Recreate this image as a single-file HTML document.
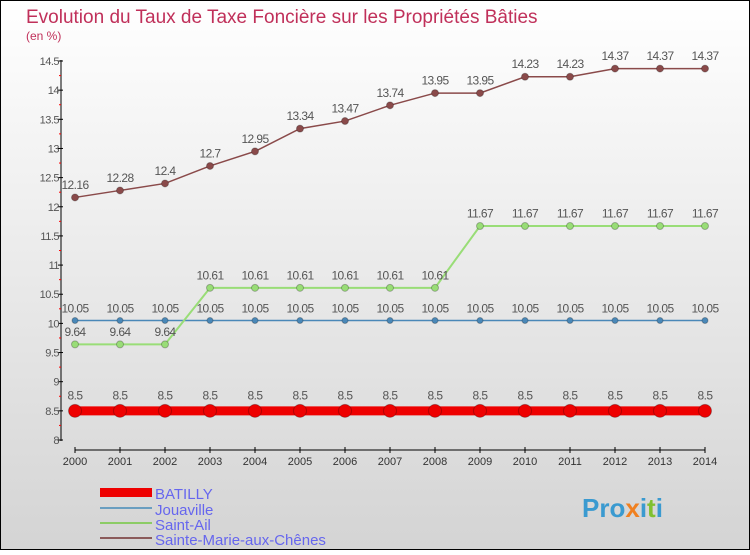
<!DOCTYPE html>
<html><head><meta charset="utf-8"><style>
body{margin:0}
svg text{font-family:"Liberation Sans",sans-serif}
</style></head><body>
<svg id="c" width="750" height="550" xmlns="http://www.w3.org/2000/svg">
<defs><linearGradient id="bg" x1="0" y1="0" x2="0" y2="1"><stop offset="0" stop-color="#ffffff"/><stop offset="1" stop-color="#d4d4d4"/></linearGradient></defs>
<rect x="0.5" y="0.5" width="749" height="549" fill="url(#bg)" stroke="#000"/>
<text x="26" y="23" font-size="19" fill="#c0305a">Evolution du Taux de Taxe Foncière sur les Propriétés Bâties</text>
<text x="26" y="40" font-size="12" fill="#c0305a">(en %)</text>
<g id="axes"></g><g id="series"></g>
<g>
<rect x="100" y="488" width="52" height="9" fill="#e00"/>
<text x="155" y="499" font-size="15" fill="#6666ee">BATILLY</text>
<rect x="100" y="507" width="52" height="2" fill="#6a9ec0"/>
<text x="155" y="515" font-size="15" fill="#6666ee">Jouaville</text>
<rect x="100" y="522" width="52" height="2" fill="#8ccc66"/>
<text x="155" y="530" font-size="15" fill="#6666ee">Saint-Ail</text>
<rect x="100" y="537" width="52" height="2" fill="#8a5a5a"/>
<text x="155" y="545" font-size="15" fill="#6666ee">Sainte-Marie-aux-Chênes</text>
</g>
<text x="582" y="517" font-size="26" font-weight="bold" fill="#3a9ad0">Pro<tspan fill="#f08020">x</tspan>i<tspan fill="#80c030">t</tspan>i</text>
</svg>
<script>
const years=[2000,2001,2002,2003,2004,2005,2006,2007,2008,2009,2010,2011,2012,2013,2014];
const yTicks=[8,8.5,9,9.5,10,10.5,11,11.5,12,12.5,13,13.5,14,14.5];
const batilly=[8.5,8.5,8.5,8.5,8.5,8.5,8.5,8.5,8.5,8.5,8.5,8.5,8.5,8.5,8.5];
const jouaville=[10.05,10.05,10.05,10.05,10.05,10.05,10.05,10.05,10.05,10.05,10.05,10.05,10.05,10.05,10.05];
const saintAil=[9.64,9.64,9.64,10.61,10.61,10.61,10.61,10.61,10.61,11.67,11.67,11.67,11.67,11.67,11.67];
const sainteMarie=[12.16,12.28,12.4,12.7,12.95,13.34,13.47,13.74,13.95,13.95,14.23,14.23,14.37,14.37,14.37];
const NS="http://www.w3.org/2000/svg";
const X=i=>75+i*45, Y=v=>440-(v-8)*(379/6.5);
function mk(t,a,p){const e=document.createElementNS(NS,t);for(const k in a)e.setAttribute(k,a[k]);p.appendChild(e);return e;}
const ax=document.getElementById('axes'), sr=document.getElementById('series');
const yl=mk('line',{x1:61,y1:60,x2:61,y2:441,stroke:'#000'},ax);


yTicks.forEach(v=>{
 mk('line',{x1:58,x2:63,y1:Y(v),y2:Y(v),stroke:'#000'},ax);
 if(v<14.5)mk('line',{x1:59,x2:61,y1:Y(v+0.25),y2:Y(v+0.25),stroke:'#f00'},ax);
 const t=mk('text',{x:59,y:Y(v)+4,'font-size':11,'text-anchor':'end',fill:'#555','letter-spacing':'-0.5'},ax);
 t.textContent=String(v);
 
 
});
const xl=mk('line',{x1:75,y1:450,x2:705,y2:450,stroke:'#000'},ax);


years.forEach((y,i)=>{
 mk('line',{x1:X(i),x2:X(i),y1:447,y2:453,stroke:'#000'},ax);
 const t=mk('text',{x:X(i),y:465,'font-size':11,'text-anchor':'middle',fill:'#333'},ax);
 t.textContent=y;
 
 
});
function series(vals,color,w,r,name){
 const g=mk('g',{},sr);
 
 
 mk('polyline',{points:vals.map((v,i)=>X(i)+','+Y(v)).join(' '),fill:'none',stroke:color,'stroke-width':w},g);
 vals.forEach((v,i)=>{
  const c=mk('circle',{cx:X(i),cy:Y(v),r:r,fill:color,stroke:'rgba(0,0,0,0.25)'},g);
  
  
  const t=mk('text',{x:X(i),y:Y(v)-(r+5),'font-size':12,'text-anchor':'middle',fill:'#555','letter-spacing':'-0.6'},g);
  t.textContent=String(v);
  
  
 });
}
series(jouaville,'#4a88b8',1.5,3,'jouaville');
series(saintAil,'#99dd77',2,3.5,'saint-ail');
series(sainteMarie,'#8a4a4a',1.5,3.5,'sainte-marie');
series(batilly,'#ee0000',9,6.5,'batilly');
</script>
</body></html>
